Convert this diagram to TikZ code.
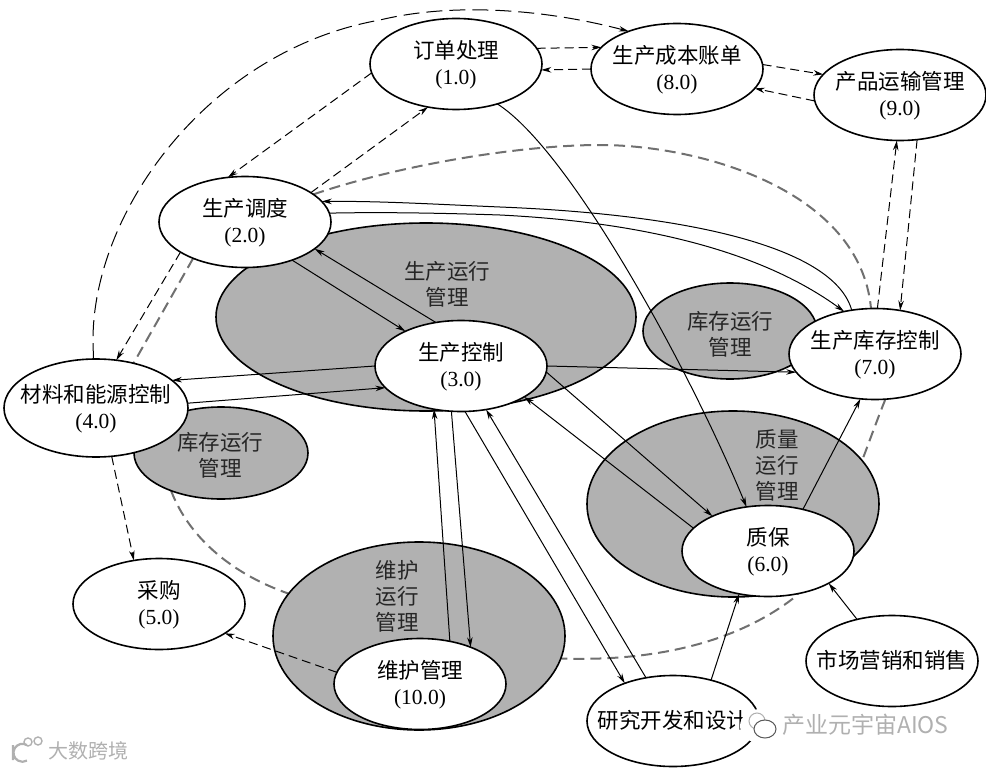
\documentclass[tikz,border=0pt]{standalone}
\usepackage{fontspec}
\setmainfont{Liberation Serif}
\newfontfamily\cjk{Noto Sans CJK SC}
\usetikzlibrary{shapes.geometric,arrows.meta}
\pgfdeclarelayer{dashbg}
\pgfdeclarelayer{ops}
\pgfdeclarelayer{conn}
\pgfsetlayers{dashbg,ops,conn,main}
\definecolor{opgrey}{HTML}{B1B1B1}
\definecolor{dashgrey}{HTML}{707070}
\definecolor{wm}{HTML}{B0B0B0}
\newcommand\duo[2]{\makebox[0pt]{\raisebox{-7.5pt}[0pt][0pt]{\begin{tabular}{@{}c@{}}{\cjk #1}\\#2\end{tabular}}}}
\newcommand\uno[1]{\makebox[0pt]{\raisebox{-7.5pt}[0pt][0pt]{\cjk #1}}}
\tikzset{
  base/.style={ellipse,inner sep=0pt,outer sep=0pt,line width=1.6pt,draw=black,font=\fontsize{21.5}{26}\selectfont},
  proc/.style={base,fill=white,minimum width=172pt,minimum height=91pt},
  opzone/.style={base,fill=opgrey},
  oplabel/.style={inner sep=0pt,align=center,font=\fontsize{21.5}{26}\selectfont\cjk,text=black!85},
  link/.style={line width=1pt,-{Stealth[length=10pt,width=5.5pt]}},
  dlink/.style={link,dash pattern=on 9pt off 5pt},
  longlink/.style={link,dash pattern=on 16pt off 7pt},
  gdash/.style={line width=2pt,draw=dashgrey,dash pattern=on 11pt off 6pt},
  wmtext/.style={inner sep=0pt,text=wm,font=\fontsize{20}{24}\selectfont\cjk}
}
\begin{document}
\begin{tikzpicture}[x=1pt,y=-1pt]
\useasboundingbox (0,0) rectangle (986,768);
% process ellipses
\node[proc] (n1) at (456,64) {\duo{订单处理}{(1.0)}};
\node[proc] (n8) at (677,69) {\duo{生产成本账单}{(8.0)}};
\node[proc] (n9) at (900,95) {\duo{产品运输管理}{(9.0)}};
\node[proc] (n2) at (245,222) {\duo{生产调度}{(2.0)}};
\node[proc] (n3) at (461,366) {\duo{生产控制}{(3.0)}};
\node[proc] (n7) at (875,354) {\duo{生产库存控制}{(7.0)}};
\node[proc,minimum width=184pt,minimum height=98pt] (n4) at (96,408) {\duo{材料和能源控制}{(4.0)}};
\node[proc] (n5) at (159,604) {\duo{采购}{(5.0)}};
\node[proc] (n10) at (420,684) {\duo{维护管理}{(10.0)}};
\node[proc] (n6) at (768,551) {\duo{质保}{(6.0)}};
\node[proc] (mk) at (892,661) {\uno{市场营销和销售}};
\node[proc] (rd) at (673,721) {\uno{研究开发和设计}};
% zone labels
\node[oplabel] (l3) at (447,284) {生产运行\\管理};
\node[oplabel] (l7) at (730,334) {库存运行\\管理};
\node[oplabel] (l4) at (220,455) {库存运行\\管理};
\node[oplabel] (l10) at (397,596) {维护\\运行\\管理};
\node[oplabel] (l6) at (777,465) {质量\\运行\\管理};
% grey operation zones
\begin{pgfonlayer}{ops}
\node[opzone,minimum width=420pt,minimum height=188pt] (z3) at (426,317) {};
\node[opzone,minimum width=174pt,minimum height=96pt] (z7) at (730,331) {};
\node[opzone,minimum width=174pt,minimum height=92pt] (z4) at (221,453) {};
\node[opzone,minimum width=292pt,minimum height=188pt] (z10) at (419,636) {};
\node[opzone,minimum width=292pt,minimum height=186pt] (z6) at (733,504) {};
\end{pgfonlayer}
% grey dashed loop
\begin{pgfonlayer}{dashbg}
\draw[gdash] (n2.22) .. controls (400,165) and (520,145) .. (600,145)
  .. controls (700,145) and (860,190) .. (n7.95);
\draw[gdash] (n2.215.6) -- (n4.50.9);
\draw[gdash] (z4.217.6) .. controls (190,540) and (235,575) .. (z10.162.6);
\draw[gdash] (n7.-77.7) .. controls (862,457) and (830,560) .. (795,597)
  .. controls (740,640) and (660,662) .. (z10.-9.5);
\end{pgfonlayer}
% connectors
\begin{pgfonlayer}{conn}
\draw[longlink] (n4.93.5) -- (93,340) .. controls (93,210) and (210,50) .. (380,20)
  .. controls (450,3) and (540,8) .. (n8.142);
\draw[dlink] (n1.11.2) -- (n8.164.7);
\draw[dlink] (n8.180.7) -- (n1.-4.6);
\draw[dlink] (n8.3.3) -- (n9.165.4);
\draw[dlink] (n9.184.7) -- (n8.-14);
\draw[dlink] (n1.186.6) -- (n2.111.8);
\draw[dlink] (n2.24.8) -- (n1.237.2);
\draw[link] (n2.-39.8) -- (n3.148.2);
\draw[link] (n3.120) -- (n2.-21.3);
\draw[link] (n3.180.7) -- (n4.20.6);
\draw[link] (n4.3) -- (n3.196.1);
\draw[dlink] (n2.205.5) -- (n4.67.2);
\draw[dlink] (n4.-72) -- (n5.120);
\draw[dlink] (n10.172.6) -- (n5.-24.5);
\draw[link] (n3.258.7) -- (n10.36.5);
\draw[link] (n10.55.7) -- (n3.238.1);
\draw[link] (n3.275) -- (rd.142);
\draw[link] (rd.122) -- (n3.-60);
\draw[link] (n3.-4.7) -- (n6.148.2);
\draw[link] (n6.163.2) -- (n3.-26.6);
\draw[link] (n1.-44.3) .. controls (570,150) and (690,370) .. (n6.116.6);
\draw[link] (n3.0) -- (n7.193.4);
\draw[link] (n6.50) -- (n7.252);
\draw[link] (mk.130.7) -- (n6.-28.7);
\draw[link] (rd.47.8) -- (n6.236.9);
\draw[link] (n7.118.5) .. controls (835,250) and (700,215) .. (500,207) .. controls (430,204) and (380,201) .. (n2.15.4);
\draw[link] (n2.6.7) .. controls (380,212) and (440,213) .. (500,215) .. controls (640,222) and (760,250) .. (n7.126.5);
\draw[dlink] (n7.87.6) -- (n9.266.3);
\draw[dlink] (n9.-69.3) -- (n7.60);
\end{pgfonlayer}
% watermarks
\fill[white] (760,726) ellipse (20pt and 17pt);
\draw[wm,line width=1pt] (757,721) circle (8pt);
\draw[black!65,fill=white,line width=1pt] (765,729) ellipse (11pt and 9pt);
\node[wmtext,anchor=west,font=\fontsize{23}{26}\selectfont\cjk] (wm1) at (782,725) {产业元宇宙AIOS};
\draw[wm,line width=2.2pt] (13,745) -- (13,760) (27,745) arc (60:300:9pt);
\draw[wm,line width=1.4pt] (28,742) circle (4pt) (38,741) circle (4pt);
\node[wmtext,anchor=west] (wm2) at (48,751) {大数跨境};
\end{tikzpicture}
\end{document}
